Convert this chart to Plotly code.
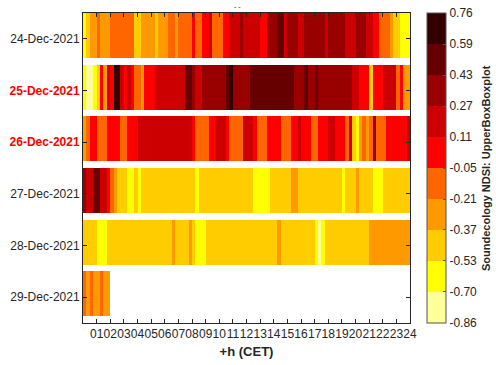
import numpy as np
import plotly.graph_objects as go

# ---------------- data ----------------
days = ["24-Dec-2021", "25-Dec-2021", "26-Dec-2021", "27-Dec-2021", "28-Dec-2021", "29-Dec-2021"]
highlight_days = ["25-Dec-2021", "26-Dec-2021"]
hour_labels = ["01", "02", "03", "04", "05", "06", "07", "08", "09", "10", "11", "12",
               "13", "14", "15", "16", "17", "18", "19", "20", "21", "22", "23", "24"]
cbar_labels = ["-0.86", "-0.70", "-0.53", "-0.37", "-0.21", "-0.05", "0.11", "0.27", "0.43", "0.59", "0.76"]
zmin, zmax = -0.86, 0.76
level_colors = ["#FFFF99", "#FFFF00", "#FFCC00", "#FF9900", "#FF6600",
                "#FF0000", "#CC0000", "#990000", "#660000", "#330000"]

# NDSI per 15-minute slot (96 slots per day)
ndsi_24 = [-0.62, -0.45, -0.29, -0.29, -0.13, -0.29, -0.29, -0.29, -0.13, -0.13, -0.13, -0.13, -0.13, -0.13, -0.13, -0.45,
           -0.45, -0.29, -0.29, -0.29, -0.29, -0.45, -0.29, -0.29, -0.29, -0.13, -0.13, -0.29, -0.13, -0.13, -0.13, -0.13,
           0.03, -0.13, -0.13, 0.03, 0.03, 0.19, -0.13, -0.13, -0.13, 0.03, 0.03, 0.19, 0.19, 0.19, 0.35, 0.19,
           0.19, 0.19, 0.19, 0.19, 0.03, 0.03, 0.35, 0.35, 0.35, 0.51, 0.51, 0.19, 0.35, 0.35, 0.35, 0.19,
           0.19, 0.35, 0.35, 0.35, 0.35, 0.35, 0.35, 0.19, 0.35, 0.35, 0.35, 0.35, 0.35, 0.19, 0.19, 0.19,
           0.35, 0.35, 0.35, 0.19, 0.19, 0.03, 0.03, -0.13, -0.13, -0.13, -0.29, -0.45, -0.45, -0.62, -0.62, -0.62]
ndsi_25 = [-0.62, -0.78, -0.78, -0.62, -0.45, 0.03, -0.29, 0.19, 0.03, 0.67, 0.67, 0.19, 0.03, 0.19, 0.03, -0.13,
           -0.13, -0.29, 0.03, 0.03, 0.03, 0.19, 0.19, 0.19, 0.19, 0.19, 0.19, 0.19, 0.19, 0.19, 0.51, 0.51,
           0.35, 0.19, 0.19, 0.35, 0.35, 0.35, 0.35, 0.35, 0.35, 0.35, 0.51, 0.67, 0.35, 0.35, 0.35, 0.35,
           0.35, 0.51, 0.51, 0.51, 0.51, 0.51, 0.51, 0.51, 0.51, 0.51, 0.51, 0.51, 0.51, 0.51, 0.35, 0.35,
           0.35, 0.51, 0.35, 0.35, 0.51, 0.35, 0.35, 0.35, 0.35, 0.35, 0.35, 0.35, 0.35, 0.35, 0.35, 0.19,
           0.19, 0.03, 0.03, 0.03, -0.45, 0.03, 0.03, 0.03, 0.19, 0.19, 0.19, 0.19, -0.13, 0.03, -0.29, -0.29]
ndsi_26 = [-0.29, -0.13, 0.03, 0.03, -0.13, -0.13, -0.13, 0.03, 0.03, 0.03, 0.03, -0.13, -0.13, 0.03, 0.03, 0.03,
           0.19, 0.19, 0.19, 0.19, 0.19, 0.19, 0.19, 0.19, 0.19, 0.19, 0.19, 0.19, 0.19, 0.19, 0.19, 0.19,
           0.03, -0.13, -0.13, -0.13, -0.13, 0.03, 0.03, 0.19, 0.19, 0.19, 0.03, -0.13, -0.13, -0.13, -0.13, 0.19,
           0.19, 0.19, 0.03, -0.13, -0.13, -0.13, 0.03, 0.03, 0.03, 0.03, -0.13, -0.13, -0.13, 0.03, 0.03, 0.19,
           0.03, 0.03, 0.03, -0.13, -0.13, 0.03, 0.03, 0.03, 0.19, 0.19, 0.03, 0.03, 0.03, -0.13, 0.19, -0.45,
           -0.62, -0.29, -0.13, -0.29, -0.13, 0.35, -0.13, -0.13, -0.13, 0.03, 0.03, 0.03, 0.03, 0.03, 0.03, 0.19]
ndsi_27 = [0.35, 0.19, 0.19, 0.51, 0.51, 0.19, 0.19, 0.03, -0.13, -0.29, -0.45, -0.45, -0.45, -0.62, -0.62, -0.45,
           -0.62, -0.45, -0.45, -0.45, -0.45, -0.45, -0.45, -0.45, -0.45, -0.45, -0.45, -0.45, -0.45, -0.45, -0.45, -0.45,
           -0.45, -0.62, -0.45, -0.45, -0.45, -0.45, -0.45, -0.45, -0.45, -0.45, -0.45, -0.45, -0.45, -0.45, -0.45, -0.45,
           -0.45, -0.45, -0.62, -0.62, -0.62, -0.62, -0.62, -0.45, -0.45, -0.45, -0.45, -0.45, -0.45, -0.29, -0.29, -0.45,
           -0.45, -0.45, -0.45, -0.45, -0.45, -0.45, -0.45, -0.45, -0.45, -0.45, -0.45, -0.45, -0.62, -0.45, -0.45, -0.45,
           -0.29, -0.45, -0.45, -0.45, -0.45, -0.62, -0.62, -0.62, -0.45, -0.45, -0.45, -0.45, -0.45, -0.45, -0.45, -0.45]
ndsi_28 = [-0.45, -0.45, -0.45, -0.45, -0.62, -0.62, -0.62, -0.45, -0.45, -0.45, -0.45, -0.45, -0.45, -0.45, -0.45, -0.45,
           -0.45, -0.45, -0.45, -0.45, -0.45, -0.45, -0.45, -0.45, -0.45, -0.45, -0.29, -0.45, -0.45, -0.45, -0.45, -0.29,
           -0.45, -0.62, -0.62, -0.62, -0.45, -0.45, -0.45, -0.45, -0.45, -0.45, -0.45, -0.45, -0.45, -0.45, -0.45, -0.45,
           -0.45, -0.45, -0.45, -0.45, -0.45, -0.45, -0.45, -0.45, -0.45, -0.29, -0.45, -0.45, -0.45, -0.45, -0.45, -0.45,
           -0.45, -0.45, -0.45, -0.45, -0.62, -0.78, -0.62, -0.45, -0.45, -0.45, -0.45, -0.45, -0.45, -0.45, -0.45, -0.45,
           -0.45, -0.45, -0.45, -0.45, -0.29, -0.29, -0.29, -0.29, -0.29, -0.29, -0.29, -0.29, -0.29, -0.29, -0.29, -0.29]
ndsi_29 = [-0.13, -0.29, -0.13, -0.29, -0.29, -0.13, -0.29, -0.29]

# ---------------- figure ----------------
W, H = 496, 365
ML, MR, MT, MB = 83, 86, 13, 42
FONT = "Liberation Sans, Arial, sans-serif"
TXT = "#262626"

series = [ndsi_24, ndsi_25, ndsi_26, ndsi_27, ndsi_28, ndsi_29]
nslots = 96
x_edges = np.linspace(0, 24, nslots + 1)

band = 0.37  # bottom of each day band (gap follows)
z, y_edges = [], [-0.5]
for i, s in enumerate(series):
    row = list(s) + [None] * (nslots - len(s))
    z.append(row)
    z.append([None] * nslots)
    y_edges += [i + band, i + 0.5]

n = len(level_colors)
cscale = []
for k, c in enumerate(level_colors):
    cscale.append([k / n, c])
    cscale.append([(k + 1) / n, c])

cb_vals = list(np.linspace(zmin + 1e-4, zmax - 1e-4, len(cbar_labels)))

plot_w = W - ML - MR
plot_h = H - MT - MB
cb_left = 427 - ML

fig = go.Figure(go.Heatmap(
    z=z, x=x_edges, y=y_edges,
    colorscale=cscale, zmin=zmin, zmax=zmax,
    hoverinfo="skip",
    colorbar=dict(
        x=cb_left / plot_w, xanchor="left", xpad=0,
        y=0.5, yanchor="middle", len=1, lenmode="fraction", ypad=0,
        thickness=19, thicknessmode="pixels",
        outlinewidth=1, outlinecolor="#555555",
        tickmode="array", tickvals=cb_vals, ticktext=cbar_labels,
        ticks="inside", ticklen=3, tickcolor="#555555",
        tickfont=dict(family=FONT, size=12, color=TXT),
    ),
))

ytext = []
for d in days:
    if d in highlight_days:
        ytext.append("<span style='color:#FF0000'><b>%s</b></span>" % d)
    else:
        ytext.append(d)

fig.update_layout(
    width=W, height=H,
    margin=dict(l=ML, r=MR, t=MT, b=MB, pad=0, autoexpand=False),
    paper_bgcolor="white", plot_bgcolor="white",
    font=dict(family=FONT, size=12, color=TXT),
    xaxis=dict(
        range=[0, 24], tickmode="array", tickvals=list(range(1, 25)), ticktext=hour_labels,
        tickangle=0, automargin=False,
        ticks="inside", ticklen=4, tickcolor=TXT, showline=True, linecolor=TXT, linewidth=1,
        mirror="ticks", showgrid=False, zeroline=False,
        tickfont=dict(family=FONT, size=12, color=TXT),
        title=dict(text="<b>+h (CET)</b>", font=dict(family=FONT, size=13, color=TXT), standoff=6),
    ),
    yaxis=dict(
        range=[5.5, -0.5], tickmode="array", tickvals=list(range(len(days))), ticktext=ytext,
        automargin=False,
        ticks="inside", ticklen=4, tickcolor=TXT, showline=True, linecolor=TXT, linewidth=1,
        mirror="ticks", showgrid=False, zeroline=False,
        tickfont=dict(family=FONT, size=12, color=TXT),
    ),
    annotations=[
        dict(text="<b>Soundecology NDSI: UpperBoxBoxplot</b>", textangle=-90,
             xref="paper", yref="paper", x=(486 - ML) / plot_w, y=0.5,
             xanchor="center", yanchor="middle", showarrow=False,
             font=dict(family=FONT, size=11, color=TXT)),
        dict(text="- -", xref="paper", yref="paper", x=(237 - ML) / plot_w,
             y=1 + (MT - 6) / plot_h, xanchor="center", yanchor="middle",
             showarrow=False, font=dict(family=FONT, size=7, color=TXT)),
    ],
)

fig.write_html("out.html", config={"displayModeBar": False},
               post_script="document.body.style.margin='0px';")
